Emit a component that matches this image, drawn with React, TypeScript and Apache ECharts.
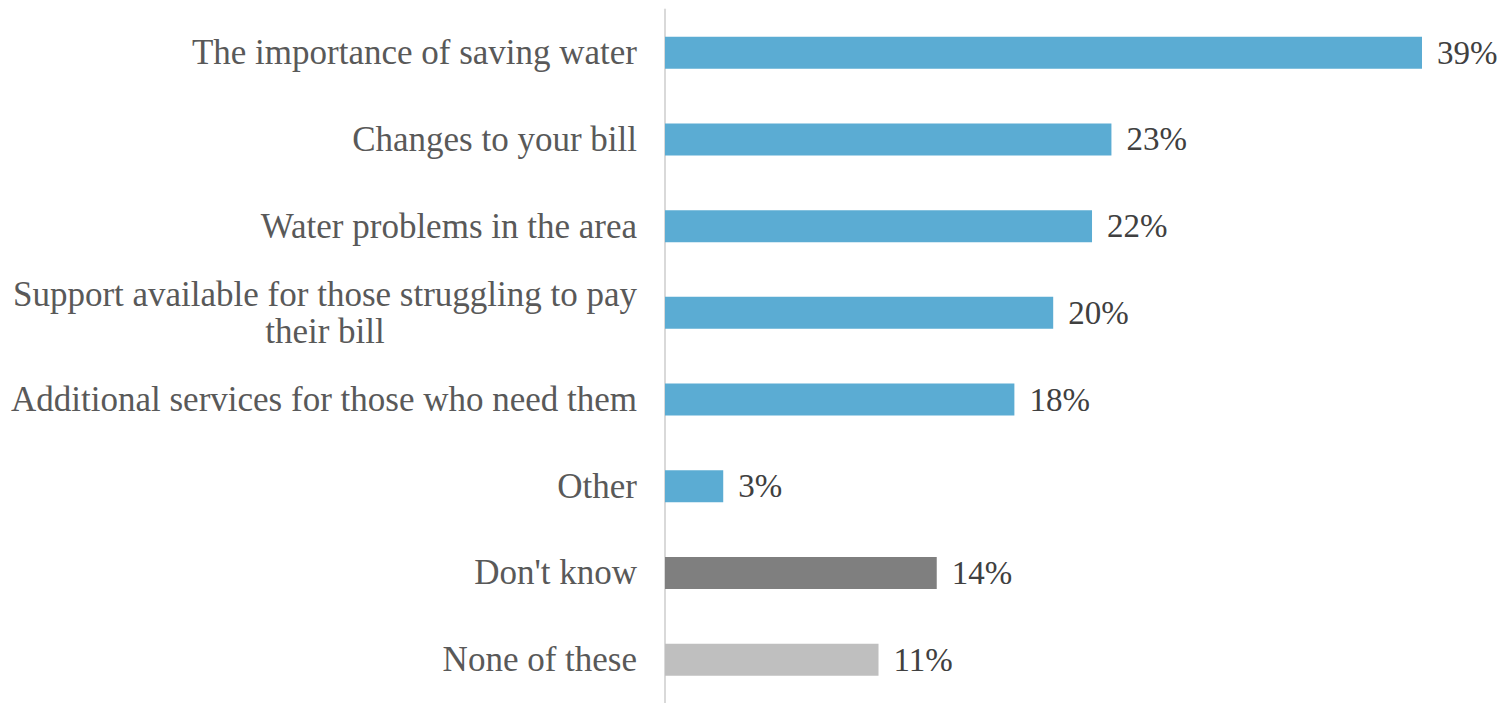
import React, { useEffect, useRef } from "react";
import * as echarts from "echarts";

const categories = [
  "The importance of saving water",
  "Changes to your bill",
  "Water problems in the area",
  "Support available for those struggling to pay\ntheir bill",
  "Additional services for those who need them",
  "Other",
  "Don't know",
  "None of these",
];
const values = [39, 23, 22, 20, 18, 3, 14, 11];
const barColors = ["#5BACD3", "#5BACD3", "#5BACD3", "#5BACD3", "#5BACD3", "#5BACD3", "#7F7F7F", "#BFBFBF"];

const FONT = "Liberation Serif";
const FS = 35;
const VFS = 33;
const LH = 37;

export default function App() {
  const ref = useRef<HTMLDivElement>(null);
  useEffect(() => {
    if (!ref.current) return;
    const chart = echarts.init(ref.current, null, { renderer: "svg" });
    chart.setOption({
      animation: false,
      grid: { left: 665, top: 9.4, width: 776.4, height: 697, containLabel: false },
      xAxis: {
        type: "value",
        min: 0,
        max: 40,
        show: false,
        splitLine: { show: false },
      },
      yAxis: {
        type: "category",
        inverse: true,
        data: categories,
        axisLine: { show: true, lineStyle: { color: "#D9D9D9", width: 2 } },
        axisTick: { show: false },
        axisLabel: {
          margin: 28,
          fontFamily: FONT,
          fontSize: FS,
          color: "#595959",
          lineHeight: LH,
          formatter: (v: string) => {
            const parts = v.split("\n");
            if (parts.length === 1) return v;
            return parts.map((p) => `{c|${p}}`).join("\n");
          },
          rich: {
            c: { align: "center", fontFamily: FONT, fontSize: FS, color: "#595959", lineHeight: LH },
          },
        },
      },
      series: [
        {
          type: "bar",
          data: values.map((v, i) => ({ value: v, itemStyle: { color: barColors[i] } })),
          barWidth: 32,
          label: {
            show: true,
            position: "right",
            distance: 15,
            formatter: "{c}%",
            fontFamily: FONT,
            fontSize: VFS,
            color: "#404040",
          },
        },
      ],
    });
    return () => chart.dispose();
  }, []);
  return <div ref={ref} style={{ width: 1501, height: 703, position: "absolute", left: 0, top: 0 }} />;
}
